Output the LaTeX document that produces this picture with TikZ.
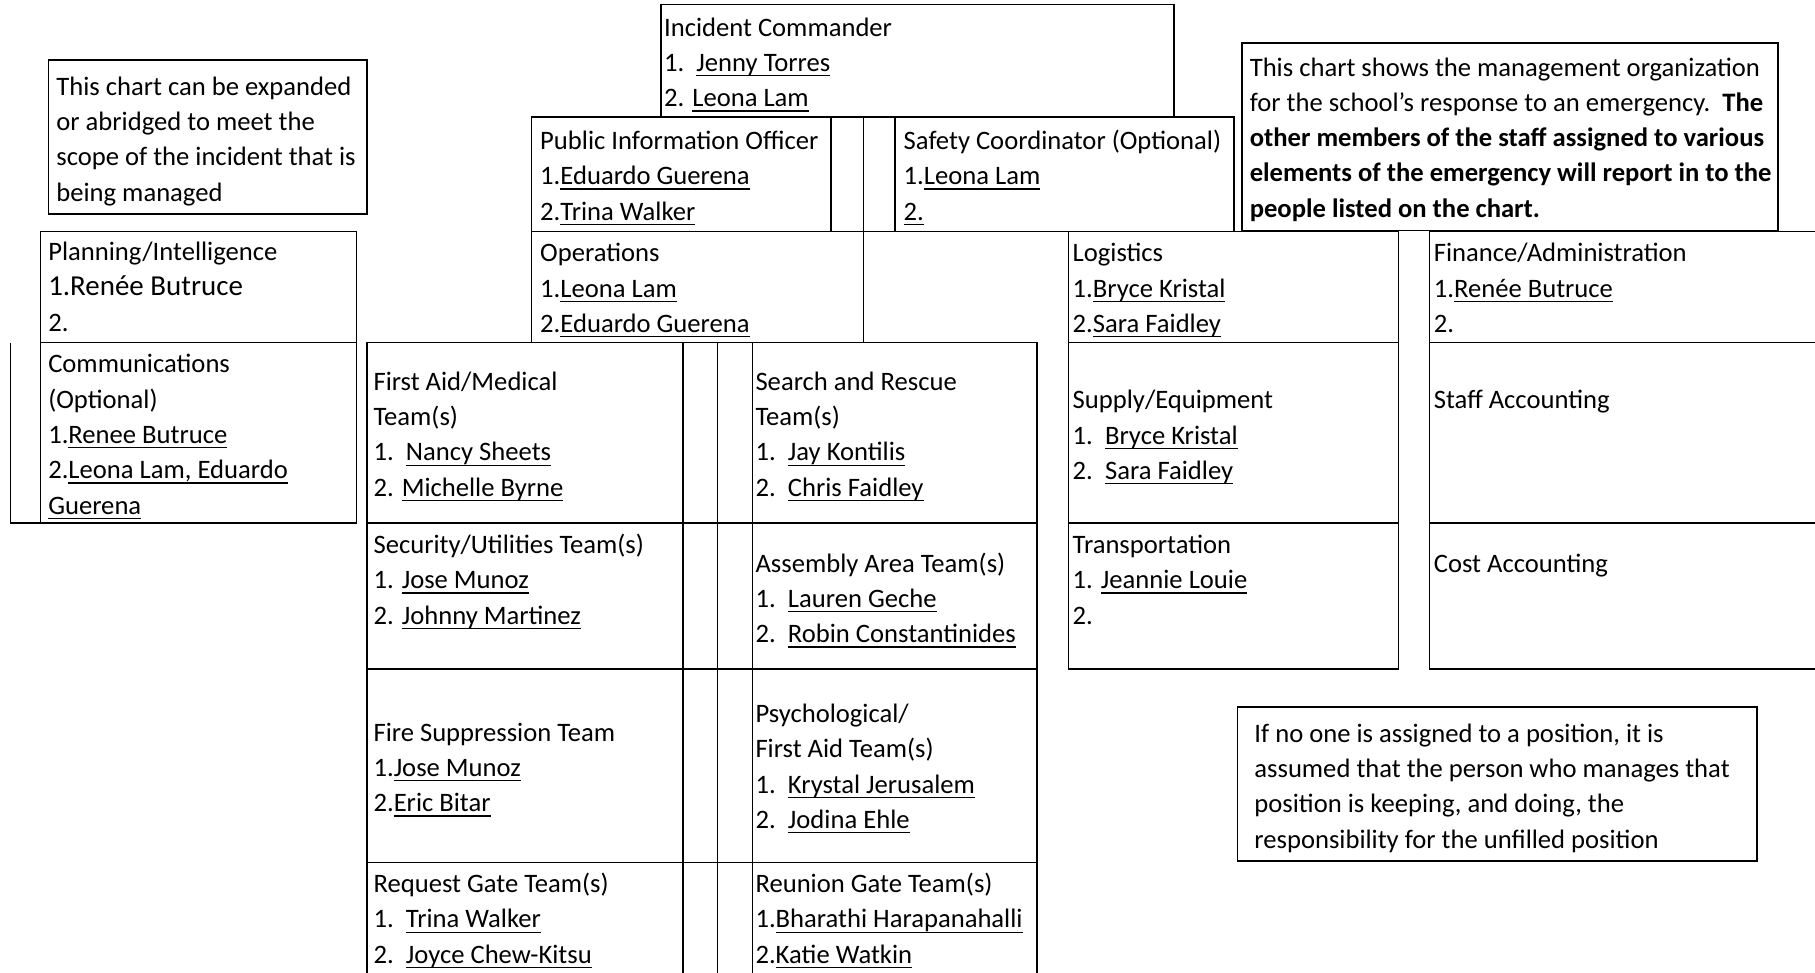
\documentclass[tikz,border=0pt]{standalone}
\usepackage{fontspec}
\setmainfont{Carlito}
\newcommand\nm[1]{\setbox0=\hbox{#1}\rlap{\rule[-2.1pt]{\wd0}{0.55pt}}\box0}
\newcommand\tabnum[1]{\makebox[14pt][l]{#1}}
\begin{document}
\begin{tikzpicture}[x=0.5pt,y=-0.5pt,line width=0.7pt,
		every node/.style={font=\fontsize{11.5}{15.25}\selectfont},
		cell/.style={align=left,anchor=north west,inner sep=0pt,yshift=10.675pt}]
		\useasboundingbox (0,0) rectangle (1568,840);
		\clip (0,0) rectangle (1568,840);
		% notes
		\draw (42,52) rectangle (317,185);
		\draw (1073,37) rectangle (1536,199);
		\draw (1069,611) rectangle (1518,744);
		% command staff
		\draw (571,4) rectangle (1014,101);
		\draw (459,101) rectangle (718,200);
		\draw (718,101) rectangle (746,200);
		\draw (746,101) rectangle (773,200);
		\draw (773,101) rectangle (1066,200);
		% sections
		\draw (35,200) rectangle (308,296);
		\draw (35,296) rectangle (308,452);
		\draw (9,296) -- (9,452) -- (35,452);
		\draw (459,200) rectangle (746,296);
		\draw (746,200) -- (923,200);
		\draw (923,200) rectangle (1208,296);
		\draw (923,296) rectangle (1208,452);
		\draw (923,452) rectangle (1208,578);
		\draw (1235,200) rectangle (1580,296);
		\draw (1235,296) rectangle (1580,452);
		\draw (1235,452) rectangle (1580,578);
		% team grid
		\foreach \ya/\yb in {296/452,452/578,578/745,745/860} {
			\draw (317,\ya) rectangle (590,\yb);
			\draw (590,\ya) rectangle (620,\yb);
			\draw (620,\ya) rectangle (650,\yb);
			\draw (650,\ya) rectangle (896,\yb);
		}
		% texts (y = baseline of first line)
		\node[cell] (noteL) at (48,81.5) {\strut This chart can be expanded\\or abridged to meet the\\scope of the incident that is\\being managed};
		\node[cell] (noteR) at (1079,65) {\strut This chart shows the management organization\\for the school’s response to an emergency.\ \ \textbf{The}\\\textbf{other members of the staff assigned to various}\\\textbf{elements of the emergency will report in to the}\\\textbf{people listed on the chart.}};
		\node[cell] (noteB) at (1083,640.5) {\strut If no one is assigned to a position, it is\\assumed that the person who manages that\\position is keeping, and doing, the\\responsibility for the unfilled position};
		\node[cell] (ic) at (573,30.5) {\strut Incident Commander\\\tabnum{1.}\nm{Jenny Torres}\\2. \nm{Leona Lam}};
		\node[cell] (pio) at (466,128.5) {\strut Public Information Officer\\1.\nm{Eduardo Guerena}\\2.\nm{Trina Walker}};
		\node[cell] (safety) at (780,128.5) {\strut Safety Coordinator (Optional)\\1.\nm{Leona Lam}\\\nm{2.}};
		\node[cell] (plan) at (41,224.5) {\strut Planning/Intelligence\\{\fontsize{12.5}{15.25}\selectfont 1.Renée Butruce}\\2.};
		\node[cell] (comm) at (41,321.5) {\strut Communications\\(Optional)\\1.\nm{Renee Butruce}\\2.\nm{Leona Lam, Eduardo}\\\nm{Guerena}};
		\node[cell] (ops) at (466,225.5) {\strut Operations\\1.\nm{Leona Lam}\\2.\nm{Eduardo Guerena}};
		\node[cell] (log) at (926,225.5) {\strut Logistics\\1.\nm{Bryce Kristal}\\2.\nm{Sara Faidley}};
		\node[cell] (fin) at (1238,225.5) {\strut Finance/Administration\\1.\nm{Renée Butruce}\\2.};
		\node[cell] (supply) at (926,352.5) {\strut Supply/Equipment\\\tabnum{1.}\nm{Bryce Kristal}\\\tabnum{2.}\nm{Sara Faidley}};
		\node[cell] (trans) at (926,477.5) {\strut Transportation\\1. \nm{Jeannie Louie}\\2.};
		\node[cell] (staff) at (1238,352.5) {\strut Staff Accounting};
		\node[cell] (cost) at (1238,493.5) {\strut Cost Accounting};
		\node[cell] (aid) at (322,336.5) {\strut First Aid/Medical\\Team(s)\\\tabnum{1.}\nm{Nancy Sheets}\\2. \nm{Michelle Byrne}};
		\node[cell] (rescue) at (652,336.5) {\strut Search and Rescue\\Team(s)\\\tabnum{1.}\nm{Jay Kontilis}\\\tabnum{2.}\nm{Chris Faidley}};
		\node[cell] (security) at (322,477.5) {\strut Security/Utilities Team(s)\\1. \nm{Jose Munoz}\\2. \nm{Johnny Martinez}};
		\node[cell] (assembly) at (652,493.5) {\strut Assembly Area Team(s)\\\tabnum{1.}\nm{Lauren Geche}\\\tabnum{2.}\nm{Robin Constantinides}};
		\node[cell] (fire) at (322,639.5) {\strut Fire Suppression Team\\1.\nm{Jose Munoz}\\2.\nm{Eric Bitar}};
		\node[cell] (psych) at (652,623.5) {\strut Psychological/\\First Aid Team(s)\\\tabnum{1.}\nm{Krystal Jerusalem}\\\tabnum{2.}\nm{Jodina Ehle}};
		\node[cell] (request) at (322,770.5) {\strut Request Gate Team(s)\\\tabnum{1.}\nm{Trina Walker}\\\tabnum{2.}\nm{Joyce Chew-Kitsu}};
		\node[cell] (reunion) at (652,770.5) {\strut Reunion Gate Team(s)\\1.\nm{Bharathi Harapanahalli}\\2.\nm{Katie Watkin}};
	\end{tikzpicture}
\end{document}
